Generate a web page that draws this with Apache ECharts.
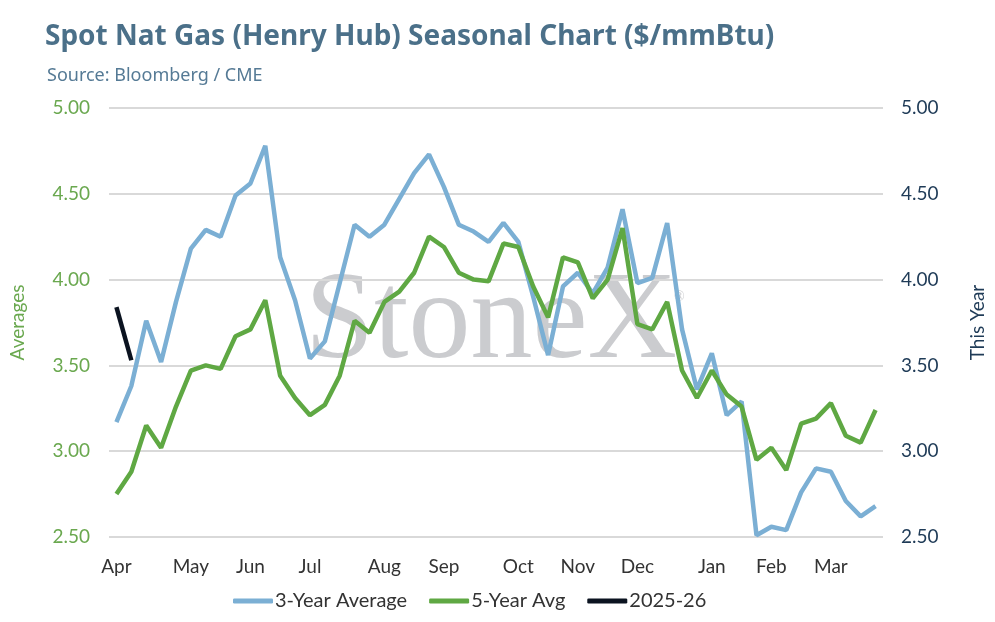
<!DOCTYPE html>
<html>
<head>
<meta charset="utf-8">
<script src="https://cdn.jsdelivr.net/npm/echarts@6/dist/echarts.min.js"></script>
<style>html,body{margin:0;padding:0;background:#fff;}#c{width:995px;height:622px;}</style>
</head>
<body>
<div id="c"></div>
<script>
const months = ['Apr','May','Jun','Jul','Aug','Sep','Oct','Nov','Dec','Jan','Feb','Mar'];
const weeksPerMonth = [5,4,4,5,4,5,4,4,5,4,4,4];
const threeYearAvg = [3.17,3.38,3.76,3.52,3.87,4.18,4.29,4.25,4.49,4.56,4.78,4.13,3.88,3.54,3.64,3.98,4.32,4.25,4.32,4.47,4.62,4.73,4.54,4.32,4.28,4.22,4.33,4.22,3.90,3.56,3.96,4.04,3.92,4.07,4.41,3.98,4.01,4.33,3.71,3.36,3.57,3.21,3.29,2.51,2.56,2.54,2.76,2.90,2.88,2.71,2.62,2.68];
const fiveYearAvg = [2.75,2.88,3.15,3.02,3.26,3.47,3.50,3.48,3.67,3.71,3.88,3.44,3.31,3.21,3.27,3.44,3.76,3.69,3.87,3.93,4.04,4.25,4.19,4.04,4.00,3.99,4.21,4.19,3.96,3.78,4.13,4.10,3.89,4.00,4.30,3.74,3.71,3.87,3.47,3.31,3.47,3.33,3.26,2.95,3.02,2.89,3.16,3.19,3.28,3.09,3.05,3.24];
const thisYear = [3.84,3.53];
const yTicks = ['2.50','3.00','3.50','4.00','4.50','5.00'];

const categories = [];
months.forEach((m,i)=>{ for(let w=1; w<=weeksPerMonth[i]; w++) categories.push(m+' W'+w); });

const FONT = 'Lato';
const chart = echarts.init(document.getElementById('c'));
chart.setOption({
  animation:false,
  textStyle:{fontFamily:FONT},
  title:[
    {text:'Spot Nat Gas (Henry Hub) Seasonal Chart ($/mmBtu)', left:40, top:18,
     textStyle:{fontFamily:'Noto Sans', fontSize:28, fontWeight:'bold', color:'#4b7089'}},
    {text:'Source: Bloomberg / CME', left:42, top:62,
     textStyle:{fontFamily:'Noto Sans', fontSize:18, fontWeight:'normal', color:'#557a95'}}
  ],
  graphic:[
    {type:'text', x:305, y:262, z:0, silent:true,
     style:{text:'StoneX', font:'124px "Liberation Serif"', fill:'#cbcccf'}},
    {type:'text', x:674, y:290, z:0, silent:true,
     style:{text:'®', font:'14px "Liberation Serif"', fill:'#cbcccf'}}
  ],
  legend:{bottom:6, left:228, itemWidth:40, itemHeight:5, itemGap:22, icon:'roundRect',
    textStyle:{fontFamily:FONT, fontSize:20, color:'#333', padding:[0,0,0,-3]},
    data:['3-Year Average','5-Year Avg','2025-26']},
  grid:{left:107, right:108, top:108, bottom:85},
  xAxis:{type:'category', data:categories, boundaryGap:true,
    axisLine:{show:false}, axisTick:{show:false},
    axisLabel:{interval:(i,v)=>v.endsWith(' W1'), formatter:v=>v.split(' ')[0],
      fontFamily:FONT, fontSize:19, color:'#333', margin:20}},
  yAxis:[
    {type:'value', min:2.5, max:5, interval:0.5, position:'left',
     name:'Averages', nameLocation:'middle', nameGap:82, nameRotate:90,
     nameTextStyle:{fontFamily:FONT, fontSize:19, color:'#6aa84f'},
     axisLabel:{formatter:v=>yTicks[Math.round((v-2.5)/0.5)], fontFamily:FONT, fontSize:19, color:'#6aa84f', margin:19},
     splitLine:{lineStyle:{color:'#d9d9d9', width:2}}, axisLine:{show:false}, axisTick:{show:false}},
    {type:'value', min:2.5, max:5, interval:0.5, position:'right',
     name:'This Year', nameLocation:'middle', nameGap:85, nameRotate:90,
     nameTextStyle:{fontFamily:FONT, fontSize:19, color:'#1f3b57'},
     axisLabel:{formatter:v=>yTicks[Math.round((v-2.5)/0.5)], fontFamily:FONT, fontSize:19, color:'#1f3b57', margin:18},
     splitLine:{show:false}, axisLine:{show:false}, axisTick:{show:false}}
  ],
  series:[
    {name:'3-Year Average', type:'line', data:threeYearAvg, yAxisIndex:0, symbol:'none', z:3,
     lineStyle:{color:'#7bafd4', width:4.5}, itemStyle:{color:'#7bafd4'}},
    {name:'5-Year Avg', type:'line', data:fiveYearAvg, yAxisIndex:0, symbol:'none', z:4,
     lineStyle:{color:'#5fa843', width:4.5}, itemStyle:{color:'#5fa843'}},
    {name:'2025-26', type:'line', data:thisYear, yAxisIndex:1, symbol:'none', z:5,
     lineStyle:{color:'#0b1320', width:4.5}, itemStyle:{color:'#0b1320'}}
  ]
});
</script>
</body>
</html>
